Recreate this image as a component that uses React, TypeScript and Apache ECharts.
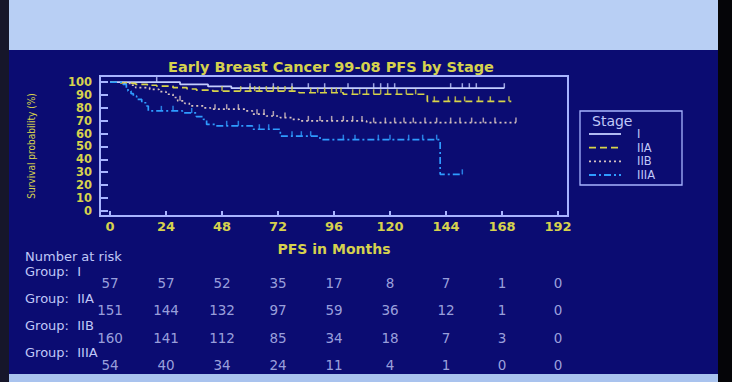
import React, { useEffect, useRef } from "react";
import * as echarts from "echarts";

// ---------- data ----------
const monthTicks = [0, 24, 48, 72, 96, 120, 144, 168, 192];
const yTicks = [0, 10, 20, 30, 40, 50, 60, 70, 80, 90, 100];
const stageNames = ["I", "IIA", "IIB", "IIIA"];

// Kaplan–Meier step points [month, survival %]
const stageI = [[0, 100], [30, 98.2], [42, 96.6], [52, 95.2], [169, 95.2]];
const stageIIA = [
  [0, 100], [4, 99.3], [8, 98.8], [11, 98.2], [16, 97.5], [20, 96.9], [27, 95.6],
  [33, 94.6], [37, 93.8], [44, 93.0], [81, 91.7], [100, 90.5], [136, 85.0], [172, 85.0],
];
const stageIIB = [
  [0, 100], [6, 99], [9, 97.5], [11, 95.6], [17, 94.3], [21, 92.5], [24, 90.5], [27, 88],
  [29, 85.4], [32, 83.5], [34, 81.5], [40, 80], [43, 78.9], [58, 77.6], [61, 75],
  [67, 73.6], [73, 72.4], [78, 71], [81, 69.8], [110, 68.5], [174, 68.5],
];
const stageIIIA = [
  [0, 100], [5.6, 98.2], [7, 95.5], [7.7, 93], [9, 91], [10, 89.1], [11.4, 86.5],
  [13.6, 83.9], [15.7, 81.4], [16.4, 77.6], [31, 76], [37, 73.2], [40, 71], [41.4, 67.1],
  [45, 66], [61, 63.3], [73, 57.9], [90, 55.2], [141.5, 28.3], [151.3, 28.3],
];

// censoring times (months)
const censorI = [20, 60, 70, 78, 85, 92, 102, 113, 116, 119, 122, 146, 151, 154, 157, 169];
const censorIIA = [48, 56, 60, 62, 64, 67, 70, 72, 75, 78, 86, 89, 92, 95, 97, 99, 104, 107, 110, 113, 116, 119, 123, 127, 131, 139, 145, 148, 152, 158, 163, 171];
const censorIIB = [30, 45, 50, 55, 63, 66, 70, 75, 85, 90, 95, 100, 104, 108, 113, 118, 122, 126, 130, 135, 140, 146, 150, 155, 160, 165, 174];
const censorIIIA = [22, 27, 35, 50, 55, 64, 68, 78, 82, 86, 100, 105, 115, 120, 128, 134, 140, 151];

// number at risk
const riskI = [57, 57, 52, 35, 17, 8, 7, 1, 0];
const riskIIA = [151, 144, 132, 97, 59, 36, 12, 1, 0];
const riskIIB = [160, 141, 112, 85, 34, 18, 7, 3, 0];
const riskIIIA = [54, 40, 34, 24, 11, 4, 1, 0, 0];

// ---------- styles ----------
const NAVY = "#0b0c72";
const YELLOW = "#d6d24e";
const PALE = "#c0c8f8";
const AXIS = "#a8b4ff";
const FONT = "DejaVu Sans, Verdana, sans-serif";
const colors = ["#c4ceff", "#d8d44a", "#d8c4c0", "#2f9cff"];
const dashes: any[] = ["solid", [7, 4], [2, 3], [7, 3, 2, 3]];

function valueAt(curve: number[][], t: number) {
  let v = curve[0][1];
  for (const p of curve) if (p[0] <= t) v = p[1];
  return v;
}

export default function App() {
  const ref = useRef<HTMLDivElement>(null);
  useEffect(() => {
    if (!ref.current) return;
    const chart = echarts.init(ref.current, undefined, { renderer: "svg" });
    const curves = [stageI, stageIIA, stageIIB, stageIIIA];
    const censors = [censorI, censorIIA, censorIIB, censorIIIA];
    const risks = [riskI, riskIIA, riskIIB, riskIIIA];

    const lineSeries = curves.map((c, i) => ({
      name: stageNames[i],
      type: "line",
      step: "end",
      data: c,
      showSymbol: false,
      xAxisIndex: 0,
      yAxisIndex: 0,
      lineStyle: { color: colors[i], width: 1.7, type: dashes[i] },
      z: 3,
    }));
    const censorSeries = censors.map((ts, i) => ({
      type: "scatter",
      data: ts.map((t) => [t, valueAt(curves[i], t)]),
      symbol: "rect",
      symbolSize: [1.5, 5],
      symbolOffset: [0, -2.5],
      itemStyle: { color: colors[i] },
      xAxisIndex: 0,
      yAxisIndex: 0,
      z: 4,
    }));
    const riskSeries = risks.map((r, row) => ({
      type: "scatter",
      xAxisIndex: 1,
      yAxisIndex: 1,
      symbolSize: 1,
      itemStyle: { color: "transparent" },
      data: monthTicks.map((m, k) => [m, row, r[k]]),
      label: {
        show: true,
        position: "inside",
        formatter: (p: any) => String(p.value[2]),
        color: PALE,
        fontFamily: FONT,
        fontSize: 13.5,
        lineHeight: 13,
      },
    }));

    const groupY = [271, 298, 325, 352];
    const legendY = [134, 147.7, 161.3, 175];

    chart.setOption({
      animation: false,
      backgroundColor: NAVY,
      title: {
        text: "Early Breast Cancer 99-08 PFS by Stage",
        left: 331,
        top: 59,
        padding: 0,
        textAlign: "center",
        textStyle: { color: YELLOW, fontFamily: FONT, fontSize: 14.5, fontWeight: "bold", lineHeight: 16 },
      },
      grid: [
        { left: 100, right: 164, top: 76, bottom: 166, show: true, borderColor: AXIS, borderWidth: 2 },
        { left: 100, right: 164, top: 269.35, height: 109.2 },
      ],
      xAxis: [
        {
          type: "value",
          gridIndex: 0,
          min: -4.3,
          max: 196.3,
          name: "PFS in Months",
          nameLocation: "middle",
          nameGap: 26,
          nameTextStyle: { color: YELLOW, fontFamily: FONT, fontSize: 14, fontWeight: "bold" },
          axisLine: { show: true, onZero: false, lineStyle: { color: AXIS, width: 2 } },
          axisTick: { show: true, inside: true, length: 5, customValues: monthTicks, lineStyle: { color: AXIS, width: 2 } },
          axisLabel: { customValues: monthTicks, color: YELLOW, fontFamily: FONT, fontSize: 13, fontWeight: "bold", margin: 4 },
          splitLine: { show: false },
        },
        { type: "value", gridIndex: 1, min: -4.3, max: 196.3, show: false },
      ],
      yAxis: [
        {
          type: "value",
          gridIndex: 0,
          min: -4.1,
          max: 104.7,
          name: "Survival probability (%)",
          nameLocation: "middle",
          nameRotate: 90,
          nameGap: 64,
          nameTextStyle: { color: YELLOW, fontFamily: "DejaVu Sans Condensed, DejaVu Sans, sans-serif", fontSize: 10 },
          axisLine: { show: true, onZero: false, lineStyle: { color: AXIS, width: 2 } },
          axisTick: { show: true, inside: true, length: 8, customValues: yTicks, lineStyle: { color: AXIS, width: 2 } },
          axisLabel: { customValues: yTicks, color: YELLOW, fontFamily: FONT, fontSize: 11.5, fontWeight: "bold", lineHeight: 12, margin: 8 },
          splitLine: { show: false },
        },
        { type: "value", gridIndex: 1, min: -0.5, max: 3.5, inverse: true, show: false },
      ],
      graphic: [
        // slide framing
        { type: "rect", shape: { x: 0, y: 0, width: 732, height: 50 }, style: { fill: "#b8cff4" }, silent: true },
        { type: "rect", shape: { x: 0, y: 374, width: 732, height: 8 }, style: { fill: "#a9c3ee" }, silent: true },
        { type: "rect", shape: { x: 0, y: 0, width: 9, height: 382 }, style: { fill: "#16162a" }, silent: true },
        { type: "rect", shape: { x: 718, y: 0, width: 14, height: 382 }, style: { fill: "#050508" }, silent: true },
        // legend
        { type: "rect", shape: { x: 580, y: 111, width: 102, height: 74 }, style: { fill: "none", stroke: AXIS, lineWidth: 1.3 } },
        { type: "text", x: 592, y: 121, style: { text: "Stage", fill: PALE, font: `14px ${FONT}`, verticalAlign: "middle", lineHeight: 12 } },
        ...stageNames.flatMap((n, i) => [
          {
            type: "line",
            shape: { x1: 589, y1: legendY[i], x2: 621, y2: legendY[i] },
            style: { stroke: colors[i], lineWidth: 1.8, lineDash: dashes[i] === "solid" ? null : dashes[i] },
          },
          { type: "text", x: 637, y: legendY[i], style: { text: n, fill: PALE, font: `11.5px ${FONT}`, verticalAlign: "middle", lineHeight: 11 } },
        ]),
        // number at risk headers
        { type: "text", x: 25, y: 256, style: { text: "Number at risk", fill: PALE, font: `13px ${FONT}`, verticalAlign: "middle", lineHeight: 11 } },
        ...stageNames.map((n, i) => ({
          type: "text",
          x: 25,
          y: groupY[i],
          style: { text: `Group:  ${n}`, fill: PALE, font: `13px ${FONT}`, verticalAlign: "middle", lineHeight: 11 },
        })),
      ],
      series: [...lineSeries, ...censorSeries, ...riskSeries],
    });
    return () => chart.dispose();
  }, []);
  return <div ref={ref} style={{ position: "fixed", left: 0, top: 0, width: 732, height: 382 }} />;
}
